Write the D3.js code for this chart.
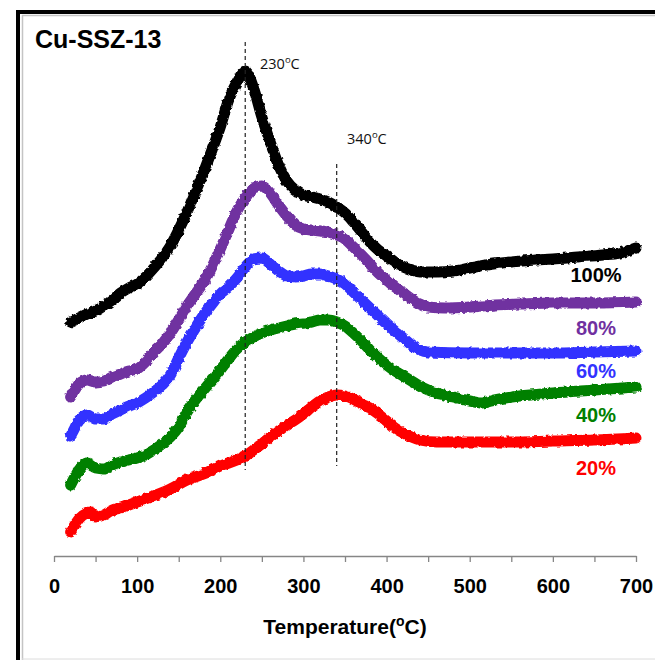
<!DOCTYPE html>
<html>
<head>
<meta charset="utf-8">
<script src="https://cdn.jsdelivr.net/npm/d3@7"></script>
<style>
  html, body { margin: 0; padding: 0; background: #fff; }
  svg { display: block; }
  text { font-family: "Liberation Sans", Arial, sans-serif; }
</style>
</head>
<body>
<svg id="chart" width="655" height="660"></svg>
<script>
// ---- data (temperature °C, signal a.u.) ----
const title = "Cu-SSZ-13";
const xTicks = [0, 50, 100, 150, 200, 250, 300, 350, 400, 450, 500, 550, 600, 650, 700];
const xTickLabels = ["0", "", "100", "", "200", "", "300", "", "400", "", "500", "", "600", "", "700"];
const seriesNames = ["100%", "80%", "60%", "40%", "20%"];
const seriesColors = ["#000000", "#7030A0", "#3333FF", "#008000", "#FF0000"];
const peakTemps = [230, 340];
const peakLabels = ["230", "340"];

const s100 = [[20,234],[30,238],[40,242],[50,245],[60,250],[70,256],[80,263],[90,268],[100,272],[110,279],[120,288],[130,298],[140,310],[150,326],[160,344],[170,364],[180,384],[190,406],[200,429],[210,456],[220,474],[230,485],[240,468],[250,439],[260,414],[270,391],[280,375],[290,366],[300,361],[310,359],[320,357],[330,354],[340,349],[350,343],[360,334],[370,324],[380,314],[390,306],[400,300],[410,294],[420,289],[430,286],[440,284],[450,284],[460,284],[480,285],[500,288],[520,291],[550,294],[580,296],[600,297],[630,299],[660,301],[680,303],[700,308]];
const s80 = [[20,159],[25,166],[30,172],[40,176],[50,174],[60,175],[70,179],[80,182],[90,185],[100,187],[110,194],[120,204],[130,212],[140,223],[150,236],[160,250],[170,262],[180,274],[190,289],[200,307],[210,326],[220,345],[230,358],[240,368],[250,370],[260,363],[270,351],[280,340],[290,331],[300,327],[310,326],[320,325],[330,324],[340,321],[350,317],[360,309],[370,301],[380,292],[390,283],[400,276],[410,269],[420,263],[430,257],[440,252],[450,249],[470,248],[500,249],[530,251],[560,252],[600,253],[650,253],[700,254]];
const s60 = [[20,120],[25,128],[30,136],[40,141],[50,137],[60,137],[70,142],[80,146],[90,150],[100,153],[110,158],[120,164],[130,171],[140,181],[150,198],[160,214],[170,228],[180,241],[190,252],[200,262],[210,269],[220,278],[230,289],[240,297],[250,298],[260,292],[270,285],[280,280],[290,279],[300,280],[310,282],[320,282],[330,280],[340,277],[350,272],[360,264],[370,256],[380,248],[390,240],[400,232],[410,225],[420,218],[430,211],[440,206],[450,204],[500,203],[550,203],[600,203],[650,204],[700,205]];
const s40 = [[20,71],[25,79],[30,86],[40,93],[50,88],[60,87],[70,91],[80,94],[90,96],[100,98],[110,101],[120,106],[130,112],[140,119],[150,129],[160,144],[170,156],[180,166],[190,176],[200,186],[210,197],[220,207],[230,214],[240,219],[250,223],[260,226],[270,228],[280,230],[290,232],[300,233],[310,234],[320,236],[330,236],[340,234],[350,230],[360,223],[370,215],[380,206],[390,198],[400,191],[410,185],[420,180],[430,175],[440,170],[450,166],[460,163],[480,159],[500,155],[515,153],[530,156],[560,160],[600,163],[650,166],[700,169]];
const s20 = [[20,24],[25,31],[30,37],[40,43],[45,44],[50,39],[60,41],[70,46],[80,48],[90,51],[100,54],[120,60],[140,67],[160,76],[180,82],[200,90],[220,96],[230,100],[240,106],[250,112],[260,119],[270,125],[280,131],[290,136],[300,142],[310,149],[320,155],[330,159],[340,161],[350,160],[360,157],[370,152],[380,148],[390,142],[400,135],[410,128],[420,123],[430,119],[440,116],[460,114],[500,114],[550,114],[600,115],[650,116],[700,118]];
const seriesData = [s100, s80, s60, s40, s20];
// dashed marker line extents (signal units)
const markerTop = [514, 392];
const markerBottom = [86, 90];

// ---- layout ----
const svg = d3.select("#chart");
const x = d3.scaleLinear().domain([0, 700]).range([54, 636]);
const y = d3.scaleLinear().domain([0, 520]).range([556, 36]);

// frame
svg.append("rect").attr("x", 0).attr("y", 0).attr("width", 655).attr("height", 660).attr("fill", "#fff");
svg.append("line").attr("x1", 18).attr("x2", 18).attr("y1", 10).attr("y2", 660).attr("stroke", "#000").attr("stroke-width", 4);
svg.append("line").attr("x1", 16).attr("x2", 655).attr("y1", 12).attr("y2", 12).attr("stroke", "#000").attr("stroke-width", 4);
svg.append("line").attr("x1", 22.5).attr("x2", 22.5).attr("y1", 15).attr("y2", 660).attr("stroke", "#c4c4c4").attr("stroke-width", 1.5);
svg.append("line").attr("x1", 22).attr("x2", 655).attr("y1", 15.5).attr("y2", 15.5).attr("stroke", "#c4c4c4").attr("stroke-width", 1.5);
svg.append("line").attr("x1", 22).attr("x2", 655).attr("y1", 659).attr("y2", 659).attr("stroke", "#dcdcdc").attr("stroke-width", 1);

// roughness filter (noise look of raw signals)
const defs = svg.append("defs");
const f = defs.append("filter").attr("id", "rough").attr("filterUnits", "userSpaceOnUse")
  .attr("x", 0).attr("y", 0).attr("width", 655).attr("height", 660);
f.append("feTurbulence").attr("type", "fractalNoise").attr("baseFrequency", "0.3").attr("numOctaves", 1).attr("seed", 3).attr("result", "n");
f.append("feDisplacementMap").attr("in", "SourceGraphic").attr("in2", "n").attr("scale", 4)
  .attr("xChannelSelector", "R").attr("yChannelSelector", "G");

// axis
const axis = d3.axisBottom(x).tickValues(xTicks)
  .tickFormat((d, i) => xTickLabels[i]).tickSize(6).tickSizeOuter(0);
const gx = svg.append("g").attr("transform", "translate(0,556)").call(axis);
gx.select(".domain").attr("stroke", "#868686").attr("stroke-width", 1.5);
gx.selectAll(".tick line").attr("stroke", "#868686").attr("stroke-width", 1.3);
gx.selectAll(".tick text").attr("y", 23).attr("fill", "#000")
  .style("font-size", "20px").style("font-weight", "bold").style("font-family", "'Liberation Sans', Arial, sans-serif");

// axis title
const at = svg.append("text").attr("x", 345).attr("y", 634).attr("text-anchor", "middle")
  .style("font-size", "21px").style("font-weight", "bold");
at.append("tspan").text("Temperature(");
at.append("tspan").attr("baseline-shift", "super").style("font-size", "14px").text("o");
at.append("tspan").text("C)");

// series lines
const line = d3.line().x(d => x(d[0])).y(d => y(d[1])).curve(d3.curveMonotoneX);
seriesData.forEach((s, i) => {
  svg.append("path").datum(s).attr("d", line)
    .attr("fill", "none").attr("stroke", seriesColors[i]).attr("stroke-width", 11)
    .attr("stroke-linecap", "round").attr("stroke-linejoin", "round")
    .attr("filter", "url(#rough)");
});

// dashed marker lines
peakTemps.forEach((t, i) => {
  svg.append("line").attr("x1", x(t)).attr("x2", x(t))
    .attr("y1", y(markerTop[i])).attr("y2", y(markerBottom[i]))
    .attr("stroke", "#222").attr("stroke-width", 1.2).attr("stroke-dasharray", "4,3");
});

// peak labels
const labelPos = [[260, 69], [347, 144]];
peakLabels.forEach((p, i) => {
  const t = svg.append("text").attr("x", labelPos[i][0]).attr("y", labelPos[i][1])
    .style("font-size", "14.5px").style("font-family", "'Open Sans', Lato, sans-serif").attr("fill", "#111");
  t.append("tspan").text(p);
  t.append("tspan").attr("baseline-shift", "super").style("font-size", "9.5px").text("o");
  t.append("tspan").text("C");
});

// series labels
const labelY = [282, 335, 378, 422, 475];
seriesNames.forEach((n, i) => {
  svg.append("text").attr("x", 596).attr("y", labelY[i]).attr("text-anchor", "middle")
    .attr("fill", seriesColors[i]).style("font-size", "20px").style("font-weight", "bold").text(n);
});

// title
svg.append("text").attr("x", 35).attr("y", 48).style("font-size", "25px").style("font-weight", "bold").text(title);
</script>
</body>
</html>
